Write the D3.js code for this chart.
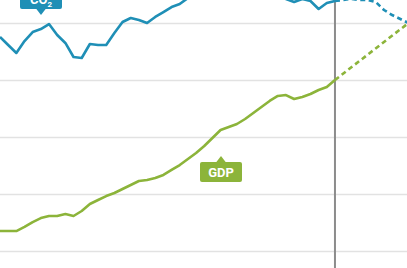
<!DOCTYPE html>
<html>
<head>
<meta charset="utf-8">
<script src="https://cdn.jsdelivr.net/npm/d3@7"></script>
<style>
  html, body { margin: 0; padding: 0; background: #fff; }
  svg { display: block; }
</style>
</head>
<body>
<div id="chart"></div>
<script>
// chart size
const width = 407, height = 268;

// years (solid = history, dashed = projection)
const years = d3.range(1977, 2019);
const projYearsCO2 = d3.range(2018, 2028);
const projYearsGDP = [2018, 2027];

// index values
const co2Values = [187.7, 180.7, 173.7, 184.2, 192.1, 194.7, 199.1, 189.5, 182.5, 170.2,
  169.3, 181.6, 180.7, 180.7, 191.2, 200.9, 204.4, 202.6, 200, 205.3,
  209.6, 214, 216.7, 221.9, 224.6, 227.2, 229.8, 232.5, 232.5, 231.6,
  230.7, 228.9, 226.3, 224.6, 223.7, 221.1, 218.4, 221.1, 219.3, 212.3,
  217.5, 219.3];
const co2Proj = [219.3, 220.2, 221.1, 220.2, 220.2, 218.4, 211.4, 207, 203.5, 200];

const gdpValues = [17.5, 17.5, 17.5, 21.1, 25.4, 28.9, 30.7, 30.7, 32.5, 30.7,
  35.1, 41.2, 44.7, 48.2, 50.9, 54.4, 57.9, 61.4, 62.3, 64,
  66.7, 71.1, 75.4, 80.7, 86, 92.1, 99.1, 106.1, 108.8, 111.4,
  115.8, 121.1, 126.3, 131.6, 136, 136.8, 133.3, 135.1, 137.7, 141.2,
  143.9, 150];
const gdpProj = [150, 200];

const gridTicks = [0, 50, 100, 150, 200];
const todayYear = 2018;

const blue = "#1f8fb6", green = "#8cb43a";

let svg = d3.select("#chart")
  .append("svg")
  .attr("width", width)
  .attr("height", height);

let x = d3.scaleLinear()
  .domain([1977, 2027])
  .range([0, 408.5]);

let y = d3.scaleLinear()
  .domain([0, 200])
  .range([251, 23]);

// horizontal gridlines
svg.append("g")
  .attr("transform", "translate(0,0)")
  .call(d3.axisLeft(y).tickValues(gridTicks).tickSize(-width).tickFormat(""))
  .call(g => g.select(".domain").remove())
  .call(g => g.selectAll("line").attr("stroke", "#e2e2e2").attr("stroke-width", 1.5));

// "today" marker
svg.append("line")
  .attr("x1", x(todayYear)).attr("x2", x(todayYear))
  .attr("y1", 0).attr("y2", height)
  .attr("stroke", "#8c8c8c")
  .attr("stroke-width", 2);

let line = d3.line()
  .x(d => x(d[0]))
  .y(d => y(d[1]));

function drawLine(xs, vals, color, dashed) {
  svg.append("path")
    .datum(xs.map((yr, i) => [yr, vals[i]]))
    .attr("d", line)
    .attr("fill", "none")
    .attr("stroke", color)
    .attr("stroke-width", 2.6)
    .attr("stroke-linejoin", "round")
    .attr("stroke-dasharray", dashed ? "5,3.5" : null);
}

drawLine(years, gdpValues, green, false);
drawLine(projYearsGDP, gdpProj, green, true);
drawLine(years, co2Values, blue, false);
drawLine(projYearsCO2, co2Proj, blue, true);

// callout labels
function callout(cx, top, w, h, color, pointUp) {
  let g = svg.append("g");
  g.append("rect")
    .attr("x", cx - w / 2).attr("y", top)
    .attr("width", w).attr("height", h)
    .attr("rx", 2)
    .attr("fill", color);
  let tipY = pointUp ? top - 6 : top + h + 6;
  let baseY = pointUp ? top + 0.5 : top + h - 0.5;
  g.append("path")
    .attr("d", `M${cx - 5},${baseY}L${cx},${tipY}L${cx + 5},${baseY}Z`)
    .attr("fill", color);
  return g;
}

let co2Label = callout(41, -12, 42, 21, blue, false);
let co2Text = co2Label.append("text")
  .attr("x", 41).attr("y", 4)
  .attr("text-anchor", "middle")
  .attr("fill", "#fff")
  .style("font-family", "'Liberation Sans Narrow', Roboto, sans-serif")
  .style("font-weight", "bold")
  .style("font-size", "13px");
co2Text.append("tspan").text("CO");
co2Text.append("tspan").attr("dy", 3).style("font-size", "8px").text("2");

let gdpLabel = callout(221, 162, 42, 20, green, true);
gdpLabel.append("text")
  .attr("x", 221).attr("y", 177)
  .attr("text-anchor", "middle")
  .attr("fill", "#fff")
  .style("font-family", "'Liberation Sans Narrow', Roboto, sans-serif")
  .style("font-weight", "bold")
  .style("font-size", "13px")
  .text("GDP");
</script>
</body>
</html>
